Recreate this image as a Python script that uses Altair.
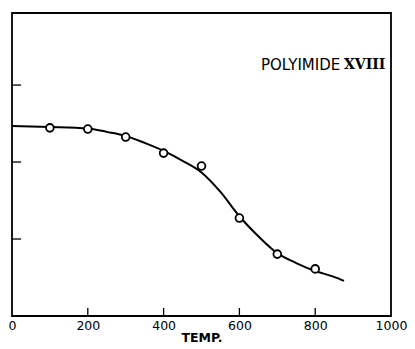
import altair as alt
import pandas as pd

# measured points
temp_pts = [100, 200, 300, 400, 500, 600, 700, 800]
val_pts = [61.1, 60.7, 58.1, 52.9, 48.7, 31.8, 20.1, 15.3]

# smooth fitted curve
temp_curve = [0, 100, 200, 250, 300, 350, 400, 450, 500, 550, 600, 650, 700, 750, 800, 850, 876]
val_curve = [61.7, 61.4, 60.9, 59.8, 58.5, 56.2, 53.6, 50.4, 46.6, 40.3, 32.4, 25.9, 20.4, 17.2, 14.6, 12.7, 11.4]

x_ticks = [0, 200, 400, 600, 800, 1000]
x_inner_ticks = [200, 400, 600, 800]
y_inner_ticks = [25, 50, 75]

label_text = ["POLYIMIDE"]
label_x = [866]
label_y = [81.5]
numeral_text = ["XVIII"]
numeral_x = [876]

pts = pd.DataFrame({"t": temp_pts, "v": val_pts})
curve = pd.DataFrame({"t": temp_curve, "v": val_curve})
xt = pd.DataFrame({"t": x_inner_ticks, "v0": [0] * 4, "v1": [2.6] * 4})
yt = pd.DataFrame({"v": y_inner_ticks, "t0": [0] * 3, "t1": [24] * 3})
lab = pd.DataFrame({"t": label_x, "v": label_y, "s": label_text})
num = pd.DataFrame({"t": numeral_x, "v": label_y, "s": numeral_text})

FONT = "DejaVu Sans"
xs = alt.Scale(domain=[0, 1000], nice=False, zero=False)
ys = alt.Scale(domain=[0, 98.4], nice=False, zero=False)

xaxis = alt.Axis(values=x_ticks, format="d", tickSize=0, domain=False, grid=False, labelFont=FONT,
                 labelFontSize=12.5, labelColor="black", labelPadding=3, labelFlush=False,
                 labelOverlap=False,
                 title="TEMP.", titleFont=FONT, titleFontSize=12.5, titleFontWeight="bold",
                 titleColor="black", titlePadding=0)

line = alt.Chart(curve).mark_line(color="black", strokeWidth=2, interpolate="monotone").encode(
    x=alt.X("t:Q", scale=xs, axis=xaxis),
    y=alt.Y("v:Q", scale=ys, axis=None),
)
points = alt.Chart(pts).mark_point(shape="circle", size=60, filled=False, fill="white",
                                   fillOpacity=1, stroke="black", strokeWidth=1.8, opacity=1).encode(
    x=alt.X("t:Q", scale=xs), y=alt.Y("v:Q", scale=ys))
xticks = alt.Chart(xt).mark_rule(color="black", strokeWidth=1.3).encode(
    x=alt.X("t:Q", scale=xs), y=alt.Y("v0:Q", scale=ys), y2="v1:Q")
yticks = alt.Chart(yt).mark_rule(color="black", strokeWidth=1.3).encode(
    y=alt.Y("v:Q", scale=ys), x=alt.X("t0:Q", scale=xs), x2="t1:Q")
label = alt.Chart(lab).mark_text(align="right", baseline="middle", font=FONT, fontSize=15,
                                 color="black").encode(
    x=alt.X("t:Q", scale=xs), y=alt.Y("v:Q", scale=ys), text="s:N")
numeral = alt.Chart(num).mark_text(align="left", baseline="middle", font="DejaVu Serif",
                                   fontSize=14, fontWeight="bold", color="black").encode(
    x=alt.X("t:Q", scale=xs), y=alt.Y("v:Q", scale=ys), text="s:N")

chart = alt.layer(line, points, xticks, yticks, label, numeral).properties(
    width=379, height=303,
    autosize=alt.AutoSizeParams(type="none"),
    padding={"left": 4, "top": 5, "right": 16, "bottom": 30},
).configure(
    background="white",
    view=alt.ViewConfig(stroke="black", strokeWidth=1.8),
)

chart.save("out.html", embed_options={"renderer": "svg", "actions": False})
